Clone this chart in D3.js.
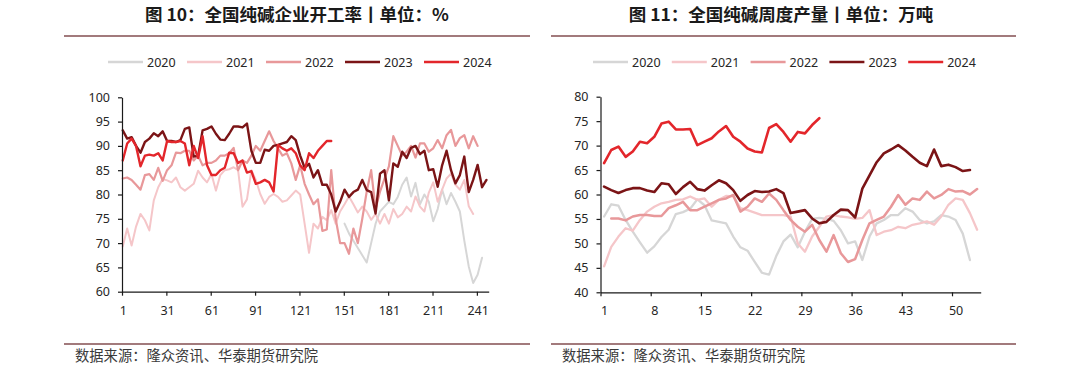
<!DOCTYPE html>
<html><head><meta charset="utf-8">
<script src="https://cdn.jsdelivr.net/npm/d3@7/dist/d3.min.js"></script>
<style>body{margin:0;background:#fff}</style>
</head><body><svg id="c" width="1080" height="380"></svg>
<script>
// ---------- data ----------
const years = ["2020", "2021", "2022", "2023", "2024"];
const yearColors = ["#d6d6d6", "#f5c6c9", "#e8989a", "#7b1416", "#e3262b"];

// left chart: daily operating rate (%), sampled every 3 days
const dayGrid = d3.range(1, 248, 3);
const dayTickLabels = [1, 31, 61, 91, 121, 151, 181, 211, 241];
const rateTicks = [60, 65, 70, 75, 80, 85, 90, 95, 100];
const rate2020 = Array(50).fill(null).concat([74, 72, 70.5, 69, 67.5, 66, 70, 74, 76.5, 77.5, 78.5, 78, 79.5, 82, 83.5, 79.6, 82.4, 78, 80, 78.5, 74.5, 77, 81, 78, 80.3, 78.5, 76.5, 70.5, 65.2, 61.8, 63.5, 67, null]);
const rate2021 = [69.3, 73, 69.5, 73.4, 76, 74.7, 72.6, 78.8, 81.5, 83.2, 82.9, 82.5, 83.5, 81.5, 80.8, 81.5, 82.2, 84.9, 83.5, 82.5, 84.2, 80.8, 84, 85, 85.2, 85.6, 85, 77.5, 79, 85, 83, 80.1, 78.1, 79.5, 80.1, 79.5, 78.5, 78.8, 79.8, 80.8, 80, 74, 68, 74, 73, 75.4, 74.7, 76.8, 74, 76.5, 78, 79.6, 78, 76.3, 77.5, 76.5, 74.8, 76, 74, 76, 74, 77, 75.3, 76, 77.5, 76.5, 79.6, 77.5, 76.5, 80.4, 82.5, 78.5, 81, 83.3, 84.3, 82, 81, 83, 77.6, 76, null, null, null];
const rate2022 = [83.3, 83.5, 83, 82, 81, 84, 84.2, 83, 85.5, 82.8, 85, 86, 88.6, 88.5, 89, 89, 87, 88, 86, 86.5, 86.5, 87, 88, 88, 88.5, 89.6, 85, 87, 86.5, 88, 90, 89, 91, 93, 91, 89.5, 88, 88.5, 86.4, 83, 86, 82.2, 80, 78, 79, 72.5, 72.8, 85, 75, 70, 70, 67.8, 73, 70, 75, 80.6, 85, 77, 80.6, 83.2, 85.8, 92, 90, 88, 88.8, 90, 87.6, 90.5, 90.5, 88.8, 89.5, 91.2, 89.5, 92.2, 93.3, 90, 91.6, 92.2, 89.5, 92, 90, null, null];
const rate2023 = [93.2, 91.5, 91.8, 90, 88.6, 90.8, 91.5, 92.6, 92, 93, 91, 91, 90.8, 91.2, 93.5, 93.8, 87.8, 88, 93.2, 93.5, 94, 92.5, 91.3, 91.2, 92.5, 94, 94, 93.8, 94.6, 89, 86.5, 86.5, 89.2, 89, 90, 90.2, 90.5, 90.8, 92, 91.2, 88, 85.5, 86.3, 83.5, 85, 82, 82, 80, 76.5, 78.5, 81, 79.5, 80.5, 81, 83, 80.9, 80.5, 76.1, 84.3, 85, 78.8, 86.4, 85.7, 88.8, 87.5, 89.6, 90, 88.3, 89, 85, 85.2, 81.6, 86, 89, 85, 82.3, 84, 87.8, 80.5, 83, 86.1, 81.5, 83];
const rate2024 = [87, 90.5, 91.5, 90, 85.8, 88, 88.2, 88, 88.5, 87, 91, 90.8, 90.8, 91, 90.5, 86, 90, 87.5, 92, 86, 84, 84, 85, 85.5, 88.6, 88.5, 86.5, 87, 84.5, 84.8, 82.2, 82.5, 83, 82.5, 80.6, 90.2, 89.5, 89, 89.5, 88.5, 86, 85, 88.5, 87.5, 89, 90, 91, 91].concat(Array(35).fill(null));

// right chart: weekly output (10k tonnes)
const weeks = d3.range(1, 54);
const weekTickLabels = [1, 8, 15, 22, 29, 36, 43, 50];
const outTicks = [40, 45, 50, 55, 60, 65, 70, 75, 80];
const out2020 = [55.5, 58, 57.7, 54.8, 52.4, 50.2, 48.1, 49.4, 51.3, 52.8, 56, 56.4, 57.1, 59, 57.8, 54.7, 54.4, 54.1, 51.4, 49.2, 48.5, 46.2, 44, 43.6, 47.4, 50.4, 51.8, 49.2, 52.4, 55, 55.2, 55, 54.6, 52.7, 50, 50.4, 46.6, 51.4, 54.1, 54.8, 55.8, 55.8, 57.2, 56.5, 54.8, 54.1, 54.5, 55.8, 55.5, 54.8, 52, 46.6, null];
const out2021 = [45.3, 49.3, 51.4, 53.1, 52.6, 54.8, 56.5, 57.5, 58.2, 58.5, 58.9, 59, 59.6, 58.9, 59.2, 57.5, 58.9, 59.7, 59.6, 57.2, 56.8, 56.3, 55.8, 55.8, 55.8, 55.8, 55.5, 50, 48.3, 51.4, 53.4, 55.5, 55.8, 55.5, 55.3, 55, 55.2, 56.8, 51.7, 52.4, 52.7, 53.4, 53.1, 53.8, 54.1, 54.5, 53.8, 55.5, 57.9, 59.2, 58.9, 56.2, 52.8];
const out2022 = [null, 55.1, 55.1, 54.7, 55.5, 55.8, 55.8, 55.6, 55.6, 57.2, 57.8, 58.5, 56.8, 56.8, 57.5, 58.2, 58.9, 59.2, 59.9, 56.5, 57.5, 59.2, 58.5, 60.2, 58.9, 56.8, 54.8, 53.4, 52.4, 53.8, 50.7, 48.3, 51.7, 48, 46.2, 46.8, 50.7, 54.1, 54.8, 55.5, 57.5, 59.9, 57.9, 59.2, 58.9, 60.6, 59.2, 59.9, 61.1, 60.6, 60.7, 60, 61.1];
const out2023 = [61.6, 60.9, 60.3, 60.9, 61.3, 61.3, 60.8, 60.5, 62.3, 62.1, 60.1, 61.5, 62.6, 61.1, 60.8, 61.9, 62.9, 62.3, 60.9, 58.7, 59.9, 60.7, 60.5, 60.6, 61.1, 60.3, 56.2, 56.5, 56.8, 55.1, 54.1, 54.4, 55.8, 56.9, 56.8, 55.3, 61.2, 63.9, 66.6, 68.4, 69.2, 70.1, 69, 67.7, 66.5, 65.8, 69.2, 65.8, 66.1, 65.6, 64.8, 65, null];
const out2024 = [66.4, 69.1, 69.8, 67.7, 68.8, 70.8, 70.5, 71.8, 74.5, 74.9, 73.3, 73.3, 73.4, 70.1, 70.8, 71.5, 72.9, 74, 71.8, 70.8, 69.4, 68.8, 68.6, 73.6, 74.4, 72.8, 70.8, 72.8, 72.5, 74.2, 75.6].concat(Array(22).fill(null));

const titleLeft = "图 10：全国纯碱企业开工率丨单位：%";
const titleRight = "图 11：全国纯碱周度产量丨单位：万吨";
const sourceText = "数据来源：隆众资讯、华泰期货研究院";

// ---------- drawing ----------
const svg = d3.select("#c");
const CJK = "'Noto Sans CJK SC','Noto Sans',sans-serif";
const NUM = "'Noto Sans','Open Sans',sans-serif";
const ruleColor = "#a27a7c";

function panel(o) {
  const g = svg.append("g");
  g.append("text").attr("x", o.titleX).attr("y", 21).attr("text-anchor", "middle")
    .attr("font-family", CJK).attr("font-weight", "bold").attr("font-size", 17.5)
    .attr("fill", "#1a1a1a").text(o.title);
  g.append("line").attr("x1", o.ruleX0).attr("x2", o.ruleX1).attr("y1", 36).attr("y2", 36)
    .attr("stroke", ruleColor).attr("stroke-width", 2);
  g.append("line").attr("x1", o.ruleX0).attr("x2", o.ruleX1).attr("y1", 344).attr("y2", 344)
    .attr("stroke", ruleColor).attr("stroke-width", 2);
  g.append("text").attr("x", o.ruleX0 + 11).attr("y", 360.5)
    .attr("font-family", CJK).attr("font-size", 14.3).attr("fill", "#3a3a3a").text(sourceText);

  years.forEach((yr, i) => {
    const lx = o.legX + i * o.legStep;
    g.append("line").attr("x1", lx).attr("x2", lx + 35).attr("y1", 62).attr("y2", 62)
      .attr("stroke", yearColors[i]).attr("stroke-width", 2.5);
    g.append("text").attr("x", lx + 39).attr("y", 66.5).attr("font-family", NUM)
      .attr("font-size", 12.5).attr("fill", "#262626").text(yr);
  });

  const x = d3.scaleLinear().domain([0, o.nCat]).range(o.xRange);
  const y = d3.scaleLinear().domain(o.yDomain).range(o.yRange);
  const half = (o.xRange[1] - o.xRange[0]) / o.nCat / 2;

  const line = d3.line().defined(d => d[1] != null)
    .x(d => x(d[0] - 0.5)).y(d => y(d[1]));
  o.series.forEach((vals, i) => {
    const pts = o.cats.map((c, k) => [c, vals[k]]);
    g.append("path").datum(pts).attr("d", line).attr("fill", "none")
      .attr("stroke", yearColors[i]).attr("stroke-width", o.lw[i])
      .attr("stroke-linejoin", "round").attr("stroke-linecap", "round");
  });

  const xa = g.append("g").attr("transform", `translate(0,${o.yRange[0]})`)
    .call(d3.axisBottom(x).tickValues(o.xTicks.map(t => t - 1)).tickFormat(t => t + 1)
      .tickSize(4).tickSizeOuter(0).tickPadding(10));
  xa.selectAll("text").attr("x", half);
  const ya = g.append("g").attr("transform", `translate(${o.xRange[0]},0)`)
    .call(d3.axisLeft(y).tickValues(o.yTicks).tickSize(4).tickSizeOuter(0).tickPadding(8));
  [xa, ya].forEach(a => {
    a.selectAll("path,line").attr("stroke", "#1a1a1a").attr("stroke-width", 1.2);
    a.selectAll("text").attr("font-family", NUM).attr("font-size", 12.5).attr("fill", "#262626");
  });
}

panel({
  title: titleLeft, titleX: 297, ruleX0: 64, ruleX1: 530, legX: 108, legStep: 79,
  nCat: 248, xRange: [122, 488.7], yDomain: [60, 100], yRange: [291.7, 97.3],
  cats: dayGrid, series: [rate2020, rate2021, rate2022, rate2023, rate2024],
  lw: [2, 2, 2.2, 2.4, 2.4], xTicks: dayTickLabels, yTicks: rateTicks
});
panel({
  title: titleRight, titleX: 781, ruleX0: 551, ruleX1: 1016, legX: 593, legStep: 78.8,
  nCat: 53, xRange: [600.5, 980.7], yDomain: [40, 80], yRange: [292.3, 96.7],
  cats: weeks, series: [out2020, out2021, out2022, out2023, out2024],
  lw: [2.3, 2.3, 2.5, 2.6, 2.6], xTicks: weekTickLabels, yTicks: outTicks
});
</script>
</body></html>
